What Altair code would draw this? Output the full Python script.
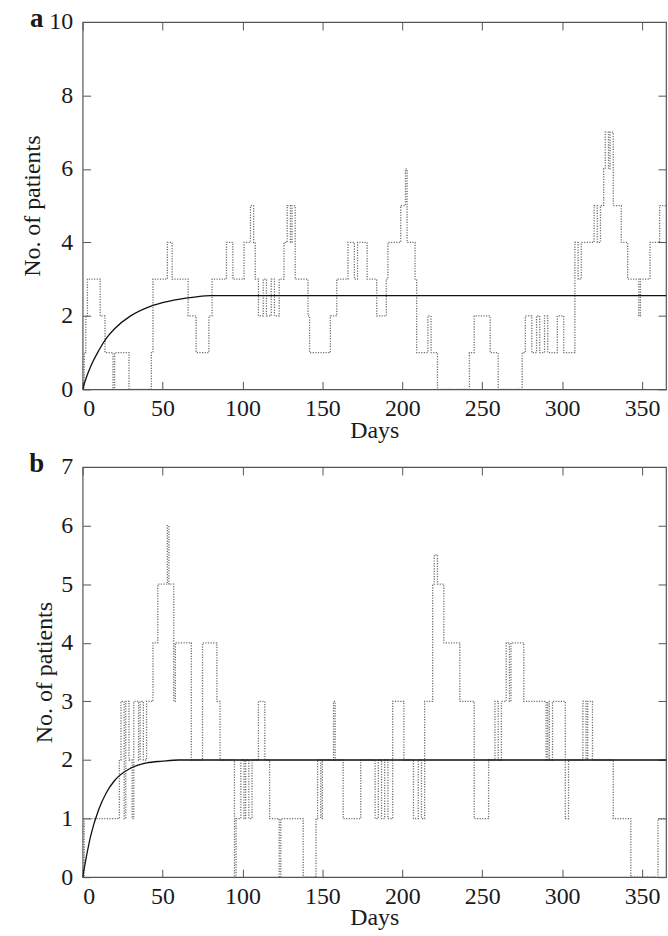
import altair as alt
import pandas as pd

# ---------------- data ----------------
a_days = [0, 1, 2, 3, 11, 14, 19, 20, 29, 43, 44, 53, 56, 66, 71, 79, 81, 90, 94,
          101, 105, 107, 108, 110, 113, 115, 118, 120, 123, 126, 128, 130, 131, 133,
          141, 142, 155, 159, 166, 170, 172, 178, 184, 190, 191, 199, 202, 203, 208,
          209, 216, 218, 222, 242, 245, 255, 260, 275, 277, 281, 284, 286, 289, 291,
          297, 301, 308, 310, 312, 320, 322, 324, 326, 327, 329, 330, 332, 337, 341,
          348, 349, 355, 361, 365]
a_vals = [0, 1, 2, 3, 2, 1, 0, 1, 0, 1, 3, 4, 3, 2, 1, 2, 3, 4, 3,
          4, 5, 4, 3, 2, 3, 2, 3, 2, 3, 4, 5, 4, 5, 3,
          2, 1, 2, 3, 4, 3, 4, 3, 2, 3, 4, 5, 6, 4, 3,
          1, 2, 1, 0, 1, 2, 1, 0, 1, 2, 1, 2, 1, 2, 1,
          2, 1, 4, 3, 4, 5, 4, 5, 6, 7, 6, 7, 5, 4, 3,
          2, 3, 4, 5, 5]

b_days = [0, 1, 23, 24, 26, 27, 29, 31, 32, 35, 36, 38, 40, 44, 47, 53, 54, 57, 58,
          68, 75, 84, 86, 95, 96, 99, 101, 102, 104, 106, 110, 114, 117, 123, 124,
          138, 146, 147, 149, 150, 157, 158, 163, 174, 183, 185, 187, 189, 191, 194,
          201, 207, 210, 212, 214, 219, 220, 222, 226, 236, 245, 254, 258, 260, 262,
          265, 267, 268, 276, 290, 291, 292, 294, 302, 304, 313, 315, 316, 319, 332,
          343, 360, 365]
b_vals = [0, 1, 2, 3, 1, 3, 2, 1, 3, 2, 3, 2, 3, 4, 5, 6, 5, 3, 4,
          2, 4, 3, 2, 0, 1, 2, 1, 2, 1, 2, 3, 2, 1, 0, 1,
          0, 1, 2, 1, 2, 3, 2, 1, 2, 1, 2, 1, 2, 1, 3,
          2, 1, 2, 1, 3, 5, 5.5, 5, 4, 3, 1, 2, 3, 2, 3,
          4, 3, 4, 3, 2, 3, 2, 3, 1, 2, 3, 2, 3, 2, 1,
          0, 1, 1]

a_fit_days = [0, 2, 5, 10, 15, 20, 30, 40, 50, 60, 70, 80, 365]
a_fit_vals = [0, 0.28, 0.62, 1.05, 1.4, 1.65, 2.0, 2.22, 2.36, 2.45, 2.51, 2.55, 2.55]

b_fit_days = [0, 2, 5, 10, 15, 20, 30, 40, 50, 60, 365]
b_fit_vals = [0, 0.3, 0.7, 1.15, 1.45, 1.65, 1.86, 1.95, 1.98, 2.0, 2.0]

x_ticks = [0, 50, 100, 150, 200, 250, 300, 350]
a_yticks = [0, 2, 4, 6, 8, 10]
b_yticks = [0, 1, 2, 3, 4, 5, 6, 7]

FONT = "Liberation Serif"
TXT = "#1a1a1a"
AX = "#555555"
W = 586


def panel(days, vals, fdays, fvals, ymax, yticks, H, letter):
    step_df = pd.DataFrame({"day": days, "n": vals})
    fit_df = pd.DataFrame({"day": fdays, "n": fvals})
    lab_df = pd.DataFrame({"t": [letter]})

    xs = alt.Scale(domain=[0, 365], nice=False, zero=False)
    ys = alt.Scale(domain=[0, ymax], nice=False)

    common = dict(domain=False, grid=False, tickSize=8, tickColor=AX,
                  tickWidth=1, offset=-8)

    x_bottom = alt.Axis(values=x_ticks, orient="bottom", title="Days",
                        labelFont=FONT, labelFontSize=24, labelColor=TXT,
                        labelPadding=7, titleFont=FONT, titleFontSize=24,
                        titleFontWeight="normal", titleColor=TXT, titlePadding=-2,
                        **common)
    x_top = alt.Axis(values=x_ticks, orient="top", title=None, labels=False, **common)
    y_left = alt.Axis(values=yticks, orient="left", title="No. of patients",
                      labelFont=FONT, labelFontSize=24, labelColor=TXT,
                      labelPadding=10, titleFont=FONT, titleFontSize=24,
                      titleFontWeight="normal", titleColor=TXT, titlePadding=4,
                      **common)
    y_right = alt.Axis(values=yticks, orient="right", title=None, labels=False, **common)

    step = alt.Chart(step_df).mark_line(
        interpolate="step-after", strokeDash=[1.2, 1.4], color="#555555",
        strokeWidth=1.3, opacity=0.85, clip=True
    ).encode(
        x=alt.X("day:Q", scale=xs, axis=x_bottom),
        y=alt.Y("n:Q", scale=ys, axis=y_left),
    )
    fit = alt.Chart(fit_df).mark_line(
        interpolate="monotone", color="#111111", strokeWidth=1.3, clip=True
    ).encode(
        x=alt.X("day:Q", scale=xs, axis=x_top),
        y=alt.Y("n:Q", scale=ys, axis=y_right),
    )
    lab = alt.Chart(lab_df).mark_text(
        font=FONT, fontSize=27, fontWeight="bold", color=TXT,
        align="center", baseline="middle"
    ).encode(text="t:N", x=alt.value(-46), y=alt.value(-3))

    return alt.layer(step, fit, lab).resolve_axis(
        x="independent", y="independent"
    ).properties(width=W, height=H)


pa = panel(a_days, a_vals, a_fit_days, a_fit_vals, 10, a_yticks, 369, "a")
pb = panel(b_days, b_vals, b_fit_days, b_fit_vals, 7, b_yticks, 412, "b")

chart = alt.vconcat(pa, pb, spacing=6).properties(
    padding={"left": 20, "top": 2, "right": 0, "bottom": 5},
    background="white",
).configure_view(stroke=AX, strokeWidth=1.2)

chart.save("out.html", embed_options={"renderer": "svg", "actions": False})
